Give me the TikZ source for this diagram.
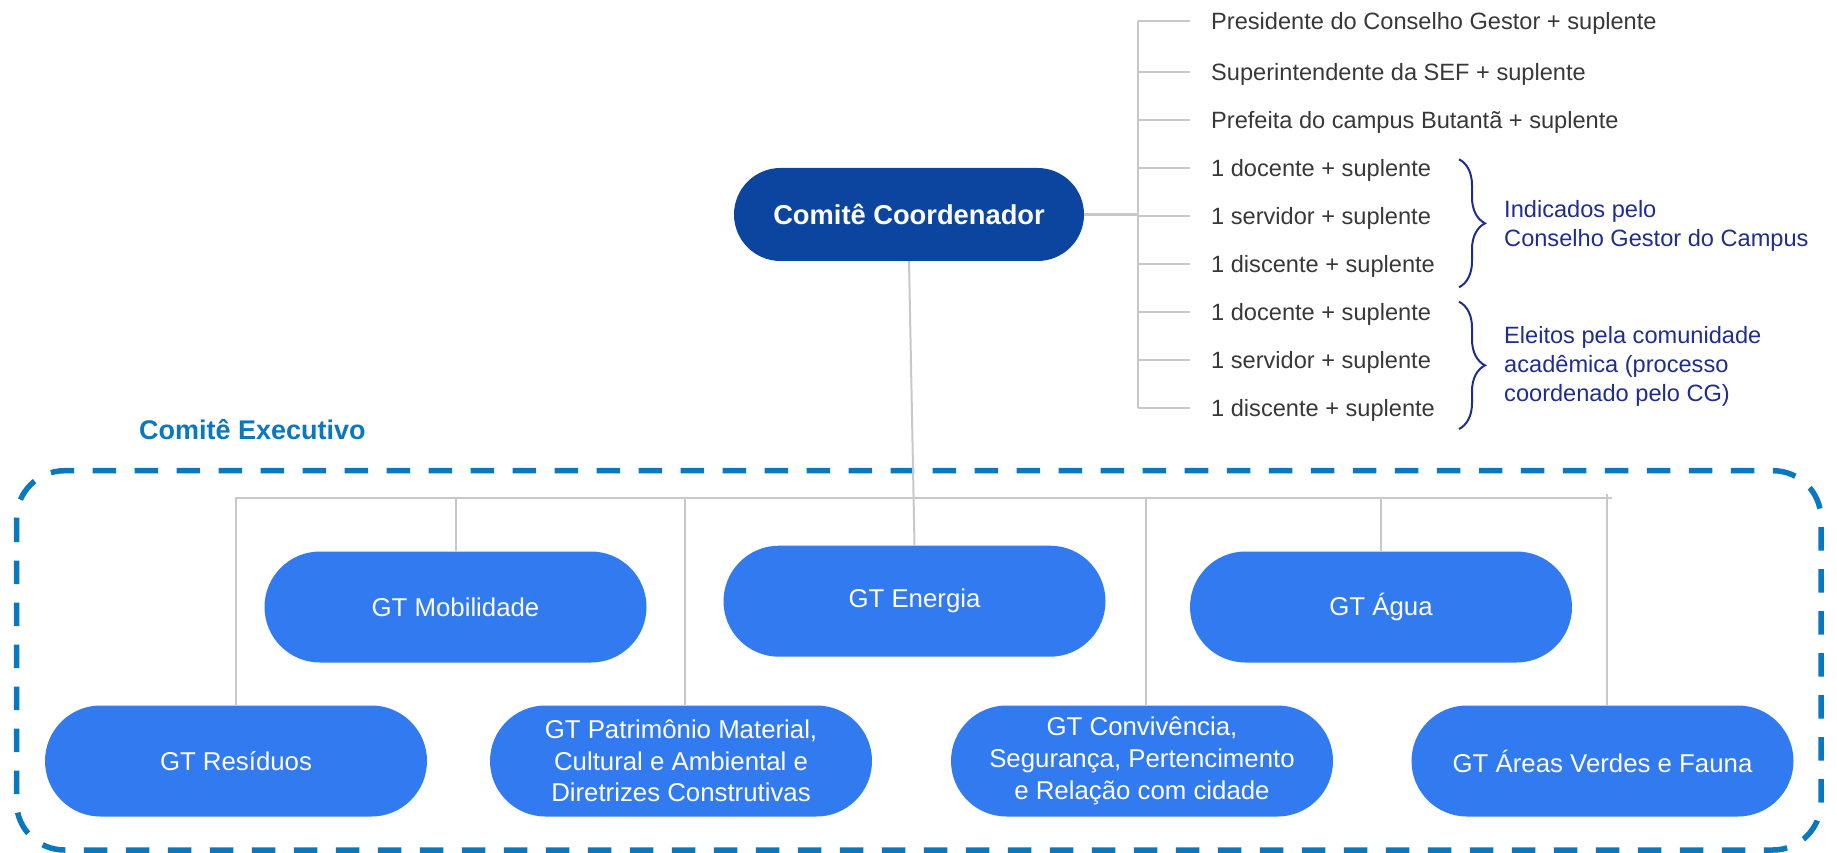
\documentclass[tikz,border=0pt]{standalone}
\usepackage{fontspec}
\setmainfont{Liberation Sans}
\usetikzlibrary{decorations.pathreplacing}
\definecolor{ccblue}{HTML}{0B45A0}
\definecolor{gtblue}{HTML}{327AF0}
\definecolor{exblue}{HTML}{0A78BE}
\definecolor{navyb}{HTML}{1F2D8C}
\definecolor{linegray}{HTML}{C8C8C8}
\definecolor{txtgray}{HTML}{383838}
\begin{document}
\begin{tikzpicture}[x=1pt,y=-1pt,
  gt/.style={fill=gtblue, text=white, rounded corners=55.5pt, minimum width=382pt, minimum height=111pt, inner sep=0pt, align=center, font=\fontsize{25.8}{31.7}\selectfont},
  item/.style={anchor=west, text=txtgray, inner sep=0pt, font=\fontsize{23.6}{29}\selectfont, text height=17pt, text depth=0pt},
  conn/.style={draw=linegray, line width=2pt},
  bracelab/.style={anchor=west, text=navyb, align=left, inner sep=0pt, font=\fontsize{23.6}{29}\selectfont},
  bracedeco/.style={draw=navyb, line width=2pt, decorate, decoration={brace, amplitude=26pt, aspect=0.5}}
]
\useasboundingbox (0,0) rectangle (1837,853);

% Comite Coordenador
\node[fill=ccblue, text=white, rounded corners=46.5pt, minimum width=350pt, minimum height=93pt, inner sep=0pt, font=\fontsize{27.3}{32}\selectfont\bfseries] (cc) at (909,214.5) {Comitê Coordenador};

% right list
\coordinate (tt) at (1137.5,21);
\node[item] (i1) at (1211,21) {Presidente do Conselho Gestor + suplente};
\node[item] (i2) at (1211,72.5) {Superintendente da SEF + suplente};
\node[item] (i3) at (1211,120) {Prefeita do campus Butantã + suplente};
\node[item] (i4) at (1211,168) {1 docente + suplente};
\node[item] (i5) at (1211,216) {1 servidor + suplente};
\node[item] (i6) at (1211,264) {1 discente + suplente};
\node[item] (i7) at (1211,312) {1 docente + suplente};
\node[item] (i8) at (1211,360) {1 servidor + suplente};
\node[item] (i9) at (1211,408) {1 discente + suplente};

\draw[conn] (tt |- i1.west) -- (tt |- i9.west);
\foreach \n in {i1,i2,i3,i4,i5,i6,i7,i8,i9}{
  \draw[conn] (tt |- \n.west) -- ([xshift=-21pt]\n.west);
}
\draw[conn, line width=3pt] (cc.east) -- (cc.east -| tt);

% braces
\coordinate (b1t) at (1459,159.3);
\coordinate (b1b) at (1459,287.3);
\coordinate (b2t) at (1459,301.7);
\coordinate (b2b) at (1459,429);
\draw[bracedeco] (b1t) -- (b1b);
\draw[bracedeco] (b2t) -- (b2b);
\node[bracelab] (l1) at (1504,226) {Indicados pelo\\Conselho Gestor do Campus};
\node[bracelab] (l2) at (1504,366) {Eleitos pela comunidade\\acadêmica (processo\\coordenado pelo CG)};

% Comite Executivo
\node[anchor=west, inner sep=0pt, text=exblue, font=\fontsize{27}{32}\selectfont\bfseries] (ce) at (139,430) {Comitê Executivo};
\draw[exblue, line width=5.5pt, dash pattern=on 23.5pt off 18.5pt, rounded corners=48pt] (16.5,470.7) rectangle (1821,850);

% GT nodes
\node[gt] (res) at (236,761) {GT Resíduos};
\node[gt] (mob) at (455.5,607) {GT Mobilidade};
\node[gt] (pat) at (681,761) {GT Patrimônio Material,\\Cultural e Ambiental e\\Diretrizes Construtivas};
\node[gt] (ene) at (914.5,601.2) {GT Energia};
\node[gt] (con) at (1142,761) {GT Convivência,\\Segurança, Pertencimento\\e Relação com cidade};
\node[gt] (agua) at (1381,607) {GT Água};
\node[gt] (are) at (1602.5,761) {GT Áreas Verdes e Fauna};

% bus
\coordinate (busL) at (235.7,498);
\coordinate (busR) at (1611.6,498);
\draw[conn, line width=2.4pt] (res.north) -- (res.north |- busL) -- (busR);
\draw[conn] (mob.north) -- (mob.north |- busL);
\coordinate (pbus) at (685,498);
\draw[conn] (pbus) -- (pbus |- pat.north);
\draw[conn] (cc.south) -- (ene.north);
\coordinate (cbus) at (1146.4,498);
\draw[conn] (cbus) -- (cbus |- con.north);
\draw[conn] (agua.north) -- (agua.north |- busL);
\coordinate (abus) at (1607,494);
\draw[conn] (abus) -- (abus |- are.north);
\end{tikzpicture}
\end{document}
